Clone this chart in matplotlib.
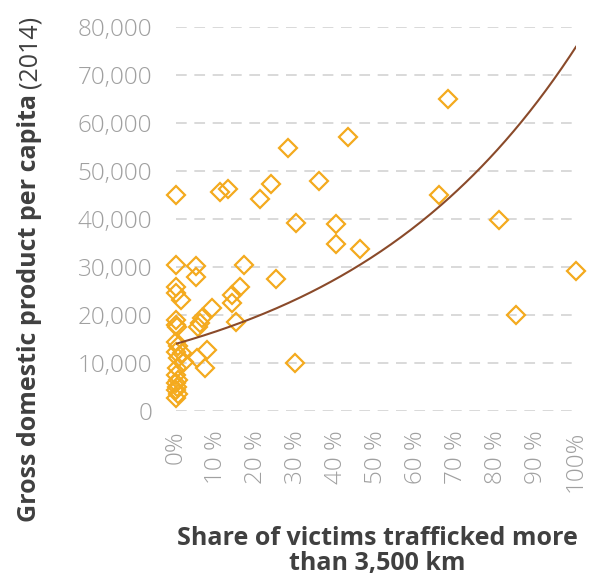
import matplotlib.pyplot as plt
import numpy as np

# ================== DATA ==================
# share of victims trafficked more than 3,500 km (%)
share_pct = [
    0, 0, 0, 0, 1.2, 0, 0, 0.3, 0, 0.5, 0, 1.5, 0.5, 2, 0.3, 0, 0.5, 0, 0.3, 0, 0.5, 0,
    5, 5, 6.6, 6, 5.6, 7.7, 5.2, 7.2, 9, 11, 12.9, 14, 14, 15, 16, 17,
    20.9, 23.8, 24.9, 27.9, 29.9, 29.8, 35.8, 39.9, 39.9, 42.9, 45.9,
    65.8, 67.9, 80.8, 84.9, 99.9,
]
# GDP per capita 2014
gdp = [
    45000, 30400, 25900, 24600, 23100, 19000, 17900, 17500, 14400, 13500, 12300, 12000, 11000,
    10200, 9000, 7500, 6500, 5800, 5000, 4400, 3500, 2700,
    30200, 28000, 19300, 18300, 17600, 12700, 11000, 9000, 21500, 45700, 46200, 24200, 22400,
    18500, 25800, 30400,
    44100, 47200, 27600, 54700, 39200, 9900, 47900, 38900, 34800, 57100, 33800,
    45000, 65000, 39800, 20000, 29200,
]

# exponential trend line: y = a * exp(b * share)
trend_a = 14000
trend_b = 1.69

x_ticks = np.arange(0, 1.01, 0.1)
x_labels = ["0%", "10 %", "20 %", "30 %", "40 %", "50 %", "60 %", "70 %", "80 %", "90 %", "100%"]
y_ticks = np.arange(0, 80001, 10000)

# ================== PLOT ==================
plt.rcParams['font.family'] = ['Open Sans', 'DejaVu Sans']

fig = plt.figure(figsize=(5.89, 5.77), dpi=100)
ax = fig.add_axes([176 / 589, 1 - 411 / 577, 400 / 589, 384 / 577])

x = np.array(share_pct) / 100
ax.plot(x, gdp, linestyle="none", marker="D", markersize=9.5, markerfacecolor="none",
        markeredgecolor="#F4AA1E", markeredgewidth=1.6, clip_on=False, zorder=3)

x_line = np.linspace(0, 1, 200)
ax.plot(x_line, trend_a * np.exp(trend_b * x_line), color="#8A4A2A", linewidth=1.5, zorder=4)

ax.set_xlim(0, 1)
ax.set_ylim(0, 80000)
ax.set_xticks(x_ticks)
ax.set_xticklabels(x_labels, rotation=90, va="top", ha="center")
ax.set_yticks(y_ticks)
ax.set_yticklabels([f"{v:,}" if v else "0" for v in y_ticks])
ax.tick_params(length=0, labelsize=17.5, labelcolor="#A0A0A0")
ax.tick_params(axis="x", pad=14)
ax.tick_params(axis="y", pad=17)
for lab in ax.get_xticklabels() + ax.get_yticklabels():
    lab.set_fontweight("light")

ax.grid(axis="y", color="#D0D0D0", linestyle=(0, (7, 5)), linewidth=1.1)
ax.set_axisbelow(True)
for s in ax.spines.values():
    s.set_visible(False)

# axis titles: bold part then regular "(2014)" right after it
ylab = fig.text(30 / 589, 1 - 522 / 577, "Gross domestic product per capita", rotation=90,
                ha="center", va="bottom", fontsize=18, fontweight="bold", color="#404040")
fig.canvas.draw()
bb = ylab.get_window_extent(fig.canvas.get_renderer())
fig.text(30 / 589, (bb.y1 + 6) / fig.bbox.height, "(2014)", rotation=90, ha="center",
         va="bottom", fontsize=18, color="#404040")
fig.text(377 / 589, 1 - 551 / 577, "Share of victims trafficked more\nthan 3,500 km",
         ha="center", va="center", fontsize=18, fontweight="bold", color="#404040",
         linespacing=1.05)

fig.savefig("out.png", dpi=100)
